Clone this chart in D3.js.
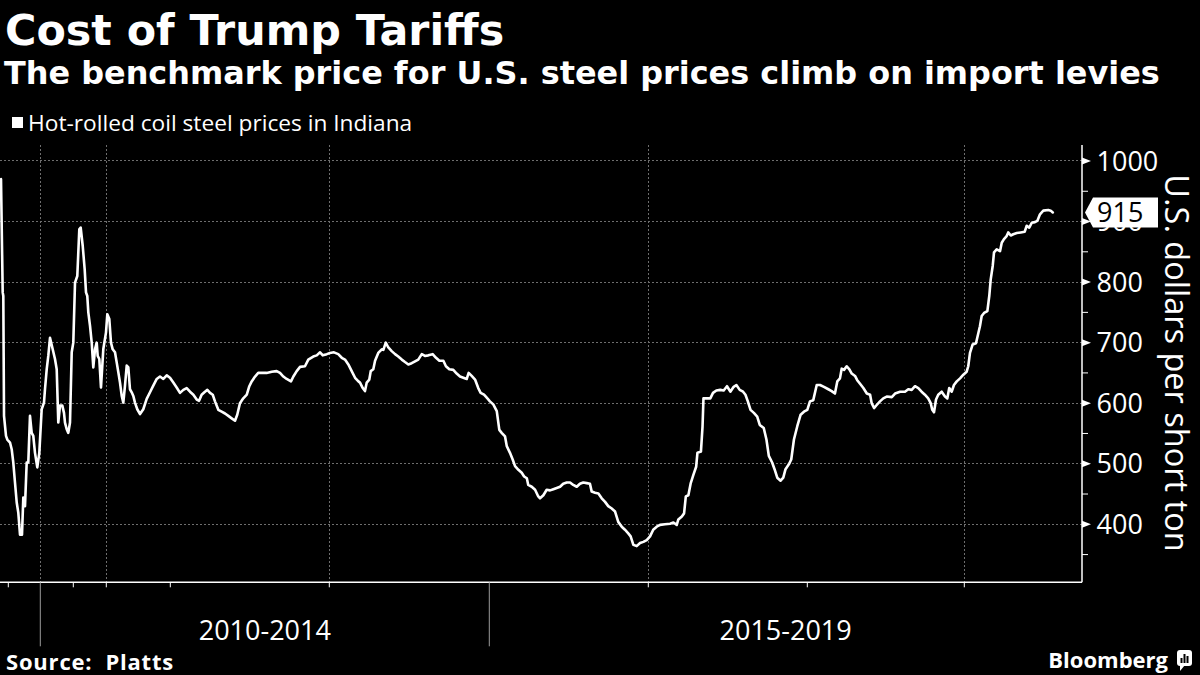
<!DOCTYPE html>
<html><head><meta charset="utf-8">
<script src="https://cdn.jsdelivr.net/npm/d3@7"></script>
<style>html,body{margin:0;padding:0;background:#000;} svg{display:block}</style>
</head><body>
<svg id="chart" width="1200" height="675"></svg>
<script>
// ---------- text ----------
const titleText = "Cost of Trump Tariffs";
const subtitleText = "The benchmark price for U.S. steel prices climb on import levies";
const seriesName = "Hot-rolled coil steel prices in Indiana";
const yAxisTitle = "U.S. dollars per short ton";
const sourceText = "Source:  Platts";
const brandText = "Bloomberg";

// ---------- axes ----------
const yTickValues = [400, 500, 600, 700, 800, 900, 1000];
const yMinorTickValues = [350, 450, 550, 650, 750, 850, 950];
const yearTickValues = [2009, 2010, 2011, 2012, 2013, 2014, 2015, 2016, 2017, 2018];
const periodBoundaryYears = [2010, 2015];
const periodLabels = ["2010-2014", "2015-2019"];
const periodStarts = [2010, 2015];
const periodEnds = [2015, 2020];
const gridYears = [2010, 2012, 2014, 2016, 2018];

// ---------- data (decimal year, USD per short ton) ----------
const dates = [
2008.772,2008.825,2008.844,2008.866,2008.928,2008.969,2009.053,2009.106,2009.156,2009.209,
2009.263,2009.313,2009.366,2009.428,2009.469,2009.522,2009.575,2009.625,2009.678,2009.731,
2009.781,2009.834,2009.906,2009.969,2010.042,2010.112,2010.142,2010.194,2010.242,2010.294,
2010.376,2010.445,2010.497,2010.545,2010.597,2010.667,2010.718,2010.748,2010.800,2010.848,
2010.900,2010.952,2011.000,2011.052,2011.121,2011.182,2011.224,2011.285,2011.345,2011.385,
2011.424,2011.455,2011.506,2011.558,2011.606,2011.658,2011.709,2011.739,2011.788,2011.839,
2011.909,2011.991,2012.016,2012.047,2012.073,2012.100,2012.136,2012.163,2012.188,2012.214,
2012.241,2012.266,2012.292,2012.319,2012.344,2012.370,2012.397,2012.422,2012.448,2012.484,
2012.527,2012.578,2012.631,2012.683,2012.734,2012.788,2012.839,2012.891,2012.944,2012.995,
2013.019,2013.040,2013.061,2013.082,2013.103,2013.124,2013.145,2013.166,2013.181,2013.197,
2013.218,2013.233,2013.250,2013.267,2013.281,2013.302,2013.323,2013.344,2013.365,2013.386,
2013.407,2013.421,2013.438,2013.459,2013.481,2013.497,2013.512,2013.533,2013.553,2013.575,
2013.606,2013.638,2013.669,2013.690,2013.711,2013.732,2013.759,2013.774,2013.795,2013.816,
2013.847,2013.868,2013.899,2013.921,2013.942,2013.959,2013.984,2014.004,2014.029,2014.056,
2014.078,2014.098,2014.119,2014.140,2014.161,2014.182,2014.192,2014.209,2014.223,2014.234,
2014.250,2014.259,2014.275,2014.286,2014.306,2014.328,2014.338,2014.353,2014.369,2014.390,
2014.411,2014.431,2014.453,2014.473,2014.494,2014.515,2014.536,2014.556,2014.578,2014.598,
2014.619,2014.646,2014.667,2014.688,2014.713,2014.729,2014.750,2014.775,2014.796,2014.817,
2014.838,2014.859,2014.871,2014.890,2014.911,2014.931,2014.946,2014.967,2014.984,2015.004,
2015.025,2015.047,2015.063,2015.078,2015.099,2015.110,2015.130,2015.147,2015.162,2015.183,
2015.204,2015.219,2015.236,2015.245,2015.267,2015.288,2015.308,2015.319,2015.340,2015.361,
2015.382,2015.403,2015.424,2015.445,2015.465,2015.487,2015.508,2015.528,2015.550,2015.570,
2015.591,2015.613,2015.633,2015.644,2015.665,2015.686,2015.707,2015.728,2015.748,2015.770,
2015.791,2015.811,2015.833,2015.853,2015.874,2015.889,2015.906,2015.927,2015.948,2015.969,
2015.990,2016.011,2016.031,2016.053,2016.074,2016.105,2016.137,2016.158,2016.179,2016.189,
2016.211,2016.225,2016.236,2016.252,2016.267,2016.284,2016.301,2016.309,2016.331,2016.341,
2016.347,2016.369,2016.390,2016.407,2016.428,2016.453,2016.474,2016.495,2016.516,2016.537,
2016.554,2016.575,2016.596,2016.611,2016.626,2016.643,2016.664,2016.685,2016.701,2016.726,
2016.743,2016.758,2016.779,2016.794,2016.811,2016.832,2016.849,2016.863,2016.884,2016.899,
2016.916,2016.937,2016.958,2016.979,2017.000,2017.017,2017.038,2017.060,2017.081,2017.106,
2017.134,2017.155,2017.176,2017.191,2017.208,2017.219,2017.234,2017.251,2017.268,2017.283,
2017.304,2017.318,2017.336,2017.357,2017.379,2017.400,2017.410,2017.425,2017.442,2017.463,
2017.484,2017.506,2017.538,2017.559,2017.591,2017.622,2017.643,2017.665,2017.686,2017.707,
2017.728,2017.749,2017.770,2017.786,2017.796,2017.807,2017.820,2017.834,2017.856,2017.877,
2017.892,2017.904,2017.920,2017.934,2017.952,2017.973,2017.994,2018.015,2018.025,2018.036,
2018.053,2018.074,2018.089,2018.099,2018.110,2018.125,2018.146,2018.158,2018.167,2018.180,
2018.188,2018.205,2018.226,2018.237,2018.251,2018.268,2018.278,2018.294,2018.310,2018.332,
2018.357,2018.382,2018.395,2018.411,2018.427,2018.447,2018.462,2018.479,2018.500,2018.532,
2018.547,2018.560
];
const prices = [
970,783,777,579,546,540,535,524,502,469,
436,419,383,383,444,430,502,502,579,551,
546,518,494,518,590,601,623,656,678,708,
689,673,656,568,596,596,584,568,557,551,
568,684,700,799,810,887,890,860,821,783,
777,750,728,700,659,689,700,678,673,626,
689,717,747,739,700,689,684,667,651,634,
612,601,629,662,659,623,618,612,601,590,
582,590,607,618,629,640,644,640,646,642,
634,626,617,622,625,619,614,606,604,614,
619,622,617,614,603,589,586,583,579,575,
571,581,600,608,614,628,636,644,650,650,
650,652,653,650,644,640,636,644,653,660,
661,672,677,679,684,679,681,683,684,681,
675,672,664,653,642,636,634,625,620,634,
639,653,656,670,683,689,688,700,692,686,
681,677,672,668,664,666,669,672,681,678,
679,681,675,670,670,661,656,655,649,644,
642,640,650,645,639,625,617,614,609,603,
598,587,556,551,545,529,518,507,496,490,
485,479,476,465,462,457,446,443,448,457,
456,458,460,462,467,469,469,465,462,467,
469,468,467,454,452,451,443,437,430,426,
421,404,396,391,385,380,366,364,369,371,
374,380,391,396,399,400,401,403,399,408,
413,418,446,448,468,482,495,518,520,561,
608,608,608,617,621,622,621,628,619,627,
630,622,619,614,603,589,584,578,564,559,
540,513,502,491,477,472,477,491,499,507,
540,562,581,586,589,603,605,630,630,627,
623,620,616,636,641,657,655,661,656,649,
645,638,632,625,616,614,600,592,597,603,
608,611,610,616,619,619,623,622,628,625,
619,614,608,600,589,585,606,614,619,611,
608,625,619,630,636,641,647,652,661,683,
697,699,716,727,744,749,752,777,804,827,
849,854,851,865,871,876,882,877,879,881,
882,883,893,890,898,899,901,912,918,919,
918,915
];
const lastValue = 915;

// ---------- layout ----------
const W = 1200, H = 675;
const plot = {left: 0, right: 1082, top: 145, bottom: 582.3};
const svg = d3.select("#chart");
svg.append("rect").attr("width", W).attr("height", H).attr("fill", "#000");

// Bloomberg-style observation axis: piecewise time scale (sparser early observations)
const x = d3.scaleLinear()
  .domain([2008, 2009, 2010, 2011, 2012, 2013, 2014, 2015, 2016, 2017, 2018, 2019])
  .range([-23.7, 8.3, 40.3, 73.3, 106.3, 170.3, 329.3, 489.3, 648.3, 807.3, 964.3, 1122.3]);
const y = d3.scaleLinear().domain([304.2, 1026.4]).range([plot.bottom, plot.top]);

const FONT = "'Open Sans', 'Noto Sans', sans-serif";
const gridColor = "#6e6e6e";

// horizontal grid
svg.append("g").selectAll("line").data(yTickValues).join("line")
  .attr("x1", plot.left).attr("x2", plot.right)
  .attr("y1", d => y(d)).attr("y2", d => y(d))
  .attr("stroke", gridColor).attr("stroke-width", 1).attr("stroke-dasharray", "2,2")
  .attr("shape-rendering", "crispEdges");
// vertical grid
svg.append("g").selectAll("line").data(gridYears).join("line")
  .attr("x1", d => x(d)).attr("x2", d => x(d))
  .attr("y1", plot.top).attr("y2", plot.bottom)
  .attr("stroke", gridColor).attr("stroke-width", 1).attr("stroke-dasharray", "2,2")
  .attr("shape-rendering", "crispEdges");

// x axis
const xAxisG = svg.append("g").attr("transform", `translate(0,${plot.bottom})`);
xAxisG.append("line").attr("x1", plot.left).attr("x2", plot.right).attr("y1", 0).attr("y2", 0)
  .attr("stroke", "#fff").attr("stroke-width", 1.5);
xAxisG.selectAll("line.tick").data(yearTickValues).join("line").attr("class", "tick")
  .attr("x1", d => x(d)).attr("x2", d => x(d)).attr("y1", 0)
  .attr("y2", d => periodBoundaryYears.includes(d) ? 64 : 5)
  .attr("stroke", d => periodBoundaryYears.includes(d) ? "#9a9a9a" : "#fff").attr("stroke-width", 1);
xAxisG.selectAll("text").data(periodLabels).join("text")
  .attr("x", (d, i) => (x(periodStarts[i]) + Math.min(x(periodEnds[i]), plot.right)) / 2)
  .attr("y", 58)
  .attr("text-anchor", "middle").attr("fill", "#fff")
  .style("font-family", FONT).style("font-size", "27px")
  .text(d => d);

// y axis (right)
const yAxisG = svg.append("g").attr("transform", `translate(${plot.right},0)`);
yAxisG.append("line").attr("x1", 0).attr("x2", 0).attr("y1", plot.top).attr("y2", plot.bottom)
  .attr("stroke", "#fff").attr("stroke-width", 1.5);
yAxisG.selectAll("line.minor").data(yMinorTickValues).join("line").attr("class", "minor")
  .attr("x1", 0).attr("x2", 6).attr("y1", d => y(d)).attr("y2", d => y(d))
  .attr("stroke", "#fff").attr("stroke-width", 1);
yAxisG.selectAll("path.major").data(yTickValues).join("path").attr("class", "major")
  .attr("d", d => `M0,${y(d) - 3.5}L9,${y(d)}L0,${y(d) + 3.5}Z`)
  .attr("fill", "#fff");
yAxisG.selectAll("text").data(yTickValues).join("text")
  .attr("x", 14.5).attr("y", d => y(d)).attr("dy", "0.36em")
  .attr("fill", "#fff").style("font-family", FONT).style("font-size", "27px")
  .text(d => d);

// axis title
svg.append("text")
  .attr("transform", `translate(1165,363) rotate(90)`)
  .attr("text-anchor", "middle")
  .attr("fill", "#fff").style("font-family", FONT).style("font-size", "32.5px")
  .text(yAxisTitle);

// line
const points = dates.map((t, i) => ({t, v: prices[i]}));
svg.append("path").datum(points)
  .attr("d", d3.line().x(d => x(d.t)).y(d => y(d.v)))
  .attr("fill", "none").attr("stroke", "#fff").attr("stroke-width", 2.6)
  .attr("stroke-linejoin", "round").attr("stroke-linecap", "round");

// last value flag
const ly = y(lastValue);
const flag = svg.append("g");
flag.append("path")
  .attr("d", `M${plot.right + 3},${ly}L${plot.right + 11},${ly - 15}L${plot.right + 76},${ly - 15}L${plot.right + 76},${ly + 15}L${plot.right + 11},${ly + 15}Z`)
  .attr("fill", "#fff");
flag.append("text").attr("x", plot.right + 15).attr("y", ly).attr("dy", "0.36em")
  .attr("fill", "#000").style("font-family", FONT).style("font-size", "27px")
  .text(lastValue);

// titles
svg.append("text").attr("x", 5).attr("y", 45)
  .attr("fill", "#fff").style("font-family", "'DejaVu Sans', sans-serif")
  .style("font-weight", "bold").style("font-size", "42.8px")
  .text(titleText);
svg.append("text").attr("x", 4).attr("y", 84)
  .attr("fill", "#fff").style("font-family", "'DejaVu Sans', sans-serif")
  .style("font-weight", "bold").style("font-size", "31.9px")
  .text(subtitleText);

// legend
svg.append("rect").attr("x", 12).attr("y", 117).attr("width", 11).attr("height", 11).attr("fill", "#fff");
svg.append("text").attr("x", 28).attr("y", 131)
  .attr("fill", "#fff").style("font-family", FONT).style("font-size", "22.7px")
  .text(seriesName);

// footer
svg.append("text").attr("x", 6).attr("y", 670)
  .attr("fill", "#fff").style("font-family", FONT).style("font-weight", "bold").style("font-size", "22px")
  .style("white-space", "pre").style("letter-spacing", "0.8px")
  .text(sourceText);
svg.append("text").attr("x", 1168).attr("y", 668).attr("text-anchor", "end")
  .attr("fill", "#fff").style("font-family", FONT).style("font-weight", "bold").style("font-size", "22px")
  .text(brandText);
const logo = svg.append("g").attr("transform", "translate(1177,650)");
logo.append("rect").attr("x", 0).attr("y", 0).attr("width", 15).attr("height", 16).attr("rx", 3).attr("fill", "#fff");
logo.append("path").attr("d", "M3,15L3,21L8,15Z").attr("fill", "#fff");
logo.append("rect").attr("x", 3.5).attr("y", 8).attr("width", 2).attr("height", 5).attr("fill", "#000");
logo.append("rect").attr("x", 6.5).attr("y", 4).attr("width", 2).attr("height", 9).attr("fill", "#000");
logo.append("rect").attr("x", 9.5).attr("y", 6).attr("width", 2).attr("height", 7).attr("fill", "#000");
</script>
</body></html>
